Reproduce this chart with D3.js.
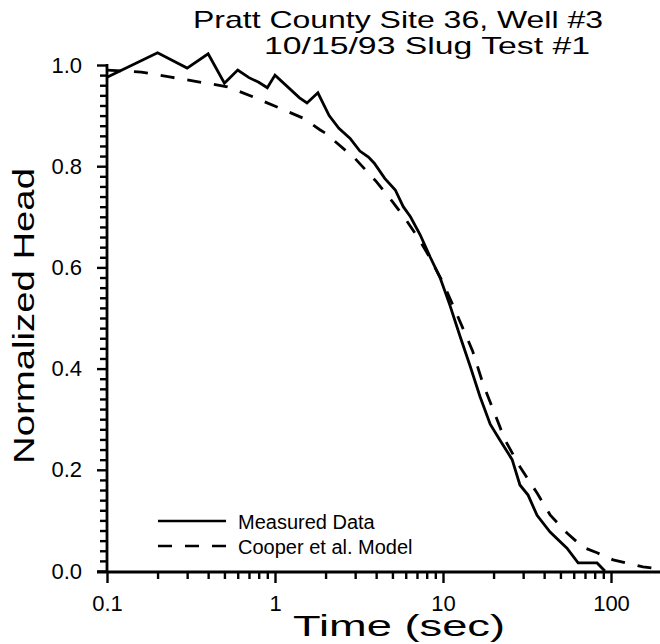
<!DOCTYPE html>
<html>
<head>
<meta charset="utf-8">
<script src="https://cdn.jsdelivr.net/npm/d3@7"></script>
<style>
  html, body { margin: 0; padding: 0; background: #fff; }
  svg { display: block; }
  text { font-family: "Liberation Sans", Arial, sans-serif; fill: #000; }
</style>
</head>
<body>
<svg id="chart" width="660" height="644"></svg>
<script>
// ---- data ----
const measuredTime = [0.1,0.2,0.3,0.4,0.5,0.6,0.7,0.8,0.9,1.0,1.4,1.55,1.8,2.1,2.4,2.8,3.2,3.6,3.9,4.5,5.2,5.8,6.4,7.3,8.4,9.6,11,12.6,14.5,16.6,19.1,21.8,25.8,28.7,32.1,36.3,43.4,54.7,63.7,82.6,92];
const measuredHead = [0.976,1.024,0.994,1.022,0.964,0.99,0.975,0.966,0.955,0.98,0.935,0.925,0.945,0.90,0.875,0.855,0.83,0.818,0.806,0.776,0.753,0.72,0.70,0.665,0.62,0.58,0.525,0.465,0.405,0.345,0.29,0.259,0.22,0.17,0.15,0.11,0.077,0.045,0.016,0.016,0.0];

const modelTime = [0.1,0.16,0.24,0.52,0.74,1.47,1.85,2,3,4,5,6,7,8,10,12,15,17.3,23.4,28.7,36.3,43.4,54.7,68.1,82.6,103,155,200];
const modelHead = [0.99,0.986,0.976,0.957,0.937,0.895,0.872,0.865,0.815,0.77,0.73,0.695,0.662,0.63,0.57,0.51,0.435,0.37,0.259,0.206,0.154,0.111,0.075,0.047,0.036,0.022,0.008,0.004];

const xMajorTicks = [0.1, 1, 10, 100];
const xTickLabels = ["0.1", "1", "10", "100"];
const yMajorTicks = [0, 0.2, 0.4, 0.6, 0.8, 1.0];
const yTickLabels = ["0.0", "0.2", "0.4", "0.6", "0.8", "1.0"];
const titleLines = ["Pratt County Site 36, Well #3", "10/15/93 Slug Test #1"];
const legendLabels = ["Measured Data", "Cooper et al. Model"];
const xTitle = "Time  (sec)";
const yTitle = "Normalized  Head";

// ---- layout ----
const svg = d3.select("#chart");
const x0 = 107, xDec = 168;
const x = d3.scaleLog().domain([0.1, 200]).range([x0, x0 + xDec * Math.log10(2000)]);
const y = d3.scaleLinear().domain([0, 1]).range([571, 65]);
const axisY0 = 572;

// minor ticks
const xMinor = [];
[0.1, 1, 10, 100].forEach(d => { for (let k = 2; k <= 9; k++) { const v = d * k; if (v <= 200) xMinor.push(v); } });
const yMinor = d3.range(0, 51).map(i => i * 0.02).filter(v => Math.abs(v * 5 - Math.round(v * 5)) > 1e-6);

// x axis
const gx = svg.append("g").attr("transform", `translate(0,${axisY0})`)
  .call(d3.axisBottom(x).tickValues(xMinor).tickSize(7).tickFormat(""));
const gxMaj = svg.append("g").attr("transform", `translate(0,${axisY0})`)
  .call(d3.axisBottom(x).tickValues(xMajorTicks).tickSize(11).tickPadding(12)
    .tickFormat((d, i) => xTickLabels[i]));
[gx, gxMaj].forEach(g => {
  g.select(".domain").remove();
  g.selectAll("line").attr("stroke", "#000").attr("stroke-width", 2.4);
});
gxMaj.selectAll("text").attr("font-size", 22).attr("fill", "#000").attr("font-family", "Liberation Sans, Arial, sans-serif");
svg.append("line").attr("x1", x0 - 10).attr("x2", 660).attr("y1", axisY0).attr("y2", axisY0)
  .attr("stroke", "#000").attr("stroke-width", 2.8);

// y axis
const gy = svg.append("g").attr("transform", `translate(${x0},0)`)
  .call(d3.axisLeft(y).tickValues(yMinor).tickSize(7).tickFormat(""));
const gyMaj = svg.append("g").attr("transform", `translate(${x0},0)`)
  .call(d3.axisLeft(y).tickValues(yMajorTicks).tickSize(10).tickPadding(15)
    .tickFormat((d, i) => yTickLabels[i]));
[gy, gyMaj].forEach(g => {
  g.select(".domain").remove();
  g.selectAll("line").attr("stroke", "#000").attr("stroke-width", 2.4);
});
gyMaj.selectAll("text").attr("font-size", 22).attr("fill", "#000").attr("font-family", "Liberation Sans, Arial, sans-serif");
svg.append("line").attr("x1", x0).attr("x2", x0).attr("y1", y(1.0) - 1).attr("y2", axisY0 + 1)
  .attr("stroke", "#000").attr("stroke-width", 2.8);

// curves
const line = d3.line().x(d => x(d[0])).y(d => y(d[1]));
svg.append("path")
  .datum(measuredTime.map((t, i) => [t, measuredHead[i]]))
  .attr("d", line).attr("fill", "none").attr("stroke", "#000").attr("stroke-width", 2.8)
  .attr("stroke-linejoin", "miter");
svg.append("path")
  .datum(modelTime.map((t, i) => [t, modelHead[i]]))
  .attr("d", line).attr("fill", "none").attr("stroke", "#000").attr("stroke-width", 2.8)
  .attr("stroke-dasharray", "14,13");

// titles
svg.append("text").attr("x", 193).attr("y", 28).attr("font-size", 24)
  .attr("textLength", 410).attr("lengthAdjust", "spacingAndGlyphs").text(titleLines[0]);
svg.append("text").attr("x", 264).attr("y", 54).attr("font-size", 24)
  .attr("textLength", 326).attr("lengthAdjust", "spacingAndGlyphs").text(titleLines[1]);

// axis titles
svg.append("text").attr("x", 399).attr("y", 636).attr("font-size", 30).attr("text-anchor", "middle")
  .attr("textLength", 212).attr("lengthAdjust", "spacingAndGlyphs").text(xTitle);
svg.append("text").attr("transform", "translate(34,316) rotate(-90)").attr("font-size", 30)
  .attr("text-anchor", "middle").attr("textLength", 296).attr("lengthAdjust", "spacingAndGlyphs").text(yTitle);

// legend
const leg = svg.append("g");
leg.append("line").attr("x1", 158).attr("x2", 226).attr("y1", 521).attr("y2", 521)
  .attr("stroke", "#000").attr("stroke-width", 2.6);
leg.append("line").attr("x1", 158).attr("x2", 226).attr("y1", 546).attr("y2", 546)
  .attr("stroke", "#000").attr("stroke-width", 2.6).attr("stroke-dasharray", "14,13");
leg.append("text").attr("x", 238).attr("y", 529).attr("font-size", 20).text(legendLabels[0]);
leg.append("text").attr("x", 238).attr("y", 554).attr("font-size", 20).text(legendLabels[1]);
</script>
</body>
</html>
